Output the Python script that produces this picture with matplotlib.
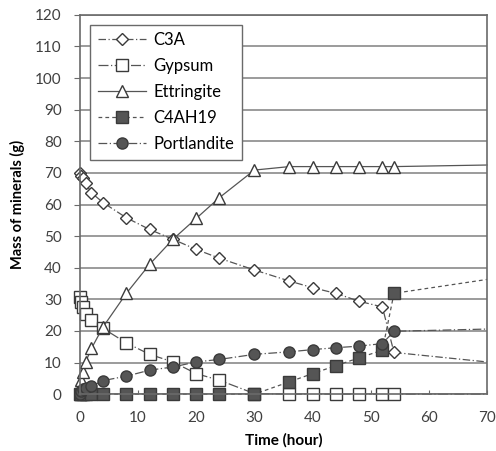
import matplotlib
matplotlib.use("Agg")
import matplotlib.pyplot as plt

# ============================
# DATOS
# ============================
time_h = [0, 0.25, 0.5, 1, 2, 4, 8, 12, 16, 20, 24, 30, 36, 40, 44, 48, 52, 54]
t_end = 70  # las líneas siguen hasta 70 h sin marcador

c3a         = [70.0, 69.0, 68.3, 66.7, 63.7, 60.6, 55.8, 52.1, 49.0, 45.8, 43.0, 39.3,
               35.8, 33.7, 31.9, 29.4, 27.6, 13.2]
gypsum      = [30.8, 29.2, 27.6, 25.5, 23.4, 20.8, 16.2, 12.6, 10.2, 6.5, 4.4, 0.2,
               0, 0, 0, 0, 0, 0]
ettringite  = [0.0, 4.4, 7.1, 10.2, 14.5, 21.3, 31.9, 41.1, 49.0, 55.6, 62.2, 70.9,
               72.0, 72.0, 72.0, 72.0, 72.0, 72.0]
c4ah19      = [0, 0, 0, 0, 0, 0, 0, 0, 0, 0, 0, 0,
               3.9, 6.5, 9.0, 11.5, 13.9, 31.9]
portlandite = [0.2, 1.0, 1.5, 1.8, 2.5, 4.3, 5.7, 7.6, 8.6, 10.2, 11.0, 12.6,
               13.4, 14.1, 14.7, 15.2, 16.0, 19.9]

end_values = {"C3A": 10.2, "Gypsum": 0.0, "Ettringite": 72.5,
              "C4AH19": 36.3, "Portlandite": 20.6}

series = [
    ("C3A", c3a, dict(marker="D", ms=6, mfc="white", ls=(0, (6, 2, 1, 2)))),
    ("Gypsum", gypsum, dict(marker="s", ms=8, mfc="white", ls=(0, (8, 2, 1, 2)))),
    ("Ettringite", ettringite, dict(marker="^", ms=9, mfc="white", ls="-")),
    ("C4AH19", c4ah19, dict(marker="s", ms=8, mfc="#555555", ls=(0, (3, 2.5)))),
    ("Portlandite", portlandite, dict(marker="o", ms=8, mfc="#555555", ls=(0, (7, 2, 1, 2)))),
]

plt.rcParams["font.family"] = ["Lato", "DejaVu Sans"]

fig = plt.figure(figsize=(4.96, 4.51), dpi=100)
ax = fig.add_axes([0.161, 0.126, 0.821, 0.841])

for name, vals, st in series:
    xs = time_h + [t_end]
    ys = vals + [end_values[name]]
    ax.plot(xs, ys, color="#555555", lw=0.9, mec="#3a3a3a", mew=1.0, clip_on=False,
            markevery=list(range(len(time_h))), label=name, **st)

ax.set_xlim(0, 70)
ax.set_ylim(0, 120)
ax.set_xticks(range(0, 71, 10))
ax.set_yticks(range(0, 121, 10))
ax.yaxis.grid(True, color="#8a8a8a", lw=1.2)
ax.set_axisbelow(True)
for s in ax.spines.values():
    s.set_color("#6a6a6a")
    s.set_linewidth(1.2)
ax.tick_params(axis="y", direction="out", length=4, color="#6a6a6a", labelsize=11,
               labelcolor="#404040", pad=9)
ax.tick_params(axis="x", direction="in", length=3, color="#6a6a6a", labelsize=11,
               labelcolor="#404040", pad=12)

ax.set_xlabel("Time (hour)", fontweight="bold", fontsize=11, labelpad=6)
ax.set_ylabel("Mass of minerals (g)", fontweight="bold", fontsize=10.5, labelpad=7)

leg = ax.legend(loc="upper left", bbox_to_anchor=(0.025, 0.974), borderaxespad=0,
                fontsize=12, fancybox=False, framealpha=1, edgecolor="#6a6a6a",
                handlelength=2.9, handletextpad=0.45, labelspacing=0.6, borderpad=0.45)
leg.get_frame().set_linewidth(1.0)

fig.savefig("out.png", dpi=100)
